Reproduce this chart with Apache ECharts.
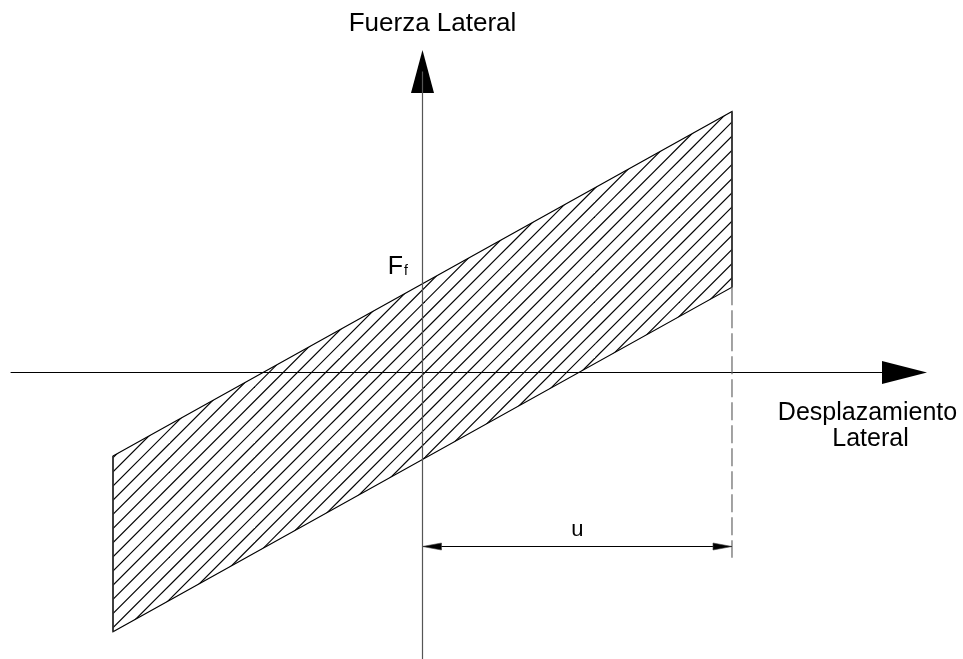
<!DOCTYPE html>
<html>
<head>
<meta charset="utf-8">
<script src="https://cdn.jsdelivr.net/npm/echarts@6/dist/echarts.min.js"></script>
<style>
  html, body { margin: 0; padding: 0; background: #fff; }
  #chart { width: 963px; height: 659px; }
</style>
</head>
<body>
<div id="chart"></div>
<script>
// Hysteresis loop of a friction damper: lateral force against lateral displacement.
const displacement = [-1, 1];          // cycle ends, -u and +u
const loadingForce = [-0.96, 3.0];     // upper branch of the loop
const unloadingForce = [-2.98, 0.98];  // lower branch of the loop
const dimensionLevel = -2.0;           // height of the "u" dimension line
const extensionEnd = -2.13;            // lower end of the dashed extension line

// Axis extents (the axes run past the loop and end in arrowheads)
const xExtent = [-1.3296, 1.5574];
const yExtent = [-3.293, 3.4598];

const FONT = '"Liberation Sans", Arial, sans-serif';

// Diagonal hatching used to fill the loop
function hatchPattern() {
  const size = 85, step = size / 6, phase = 4;
  const c = document.createElement('canvas');
  c.width = size; c.height = size;
  const ctx = c.getContext('2d');
  ctx.strokeStyle = '#000';
  ctx.lineWidth = 1.15;
  for (let k = -2; k * step < 2 * size + step; k++) {
    const s = k * step + phase;
    ctx.beginPath();
    ctx.moveTo(s + 10, -10);
    ctx.lineTo(-10, s + 10);
    ctx.stroke();
  }
  return c;
}
const hatch = { image: hatchPattern(), repeat: 'repeat' };

// Force where the upper branch crosses zero displacement (F_f)
const frictionForce = loadingForce[0] +
  (loadingForce[1] - loadingForce[0]) * (0 - displacement[0]) / (displacement[1] - displacement[0]);

function textEl(x, y, text, size, align) {
  return {
    type: 'text', x: x, y: y,
    style: {
      text: text, fontSize: size, fontFamily: FONT, fill: '#000',
      align: align || 'center', verticalAlign: 'middle',
      textAlign: align || 'center', textVerticalAlign: 'middle'
    }
  };
}

const chart = echarts.init(document.getElementById('chart'), null, { renderer: 'canvas' });

chart.setOption({
  animation: false,
  backgroundColor: '#fff',
  grid: { left: 11, right: 58.5, top: 71.5, bottom: 0, containLabel: false },
  xAxis: {
    type: 'value', min: xExtent[0], max: xExtent[1],
    axisLine: {
      show: true, onZero: true,
      symbol: ['none', 'triangle'], symbolSize: [23, 45],
      lineStyle: { color: '#000', width: 1 }
    },
    axisTick: { show: false }, axisLabel: { show: false }, splitLine: { show: false }
  },
  yAxis: {
    type: 'value', min: yExtent[0], max: yExtent[1],
    axisLine: {
      show: true, onZero: true,
      symbol: ['none', 'triangle'], symbolSize: [23, 43],
      lineStyle: { color: '#000', width: 1, opacity: 0 }
    },
    axisTick: { show: false }, axisLabel: { show: false }, splitLine: { show: false }
  },
  graphic: [
    textEl(432.5, 24, 'Fuerza Lateral', 26),
    textEl(867.5, 413, 'Desplazamiento', 25),
    textEl(870.5, 439.6, 'Lateral', 25)
  ],
  series: [
    {
      // Hatched hysteresis loop
      name: 'loop',
      type: 'custom',
      coordinateSystem: 'cartesian2d',
      data: [[0, 0]],
      z: 2,
      renderItem: function (params, api) {
        const pts = [
          api.coord([displacement[0], loadingForce[0]]),
          api.coord([displacement[1], loadingForce[1]]),
          api.coord([displacement[1], unloadingForce[1]]),
          api.coord([displacement[0], unloadingForce[0]])
        ];
        return {
          type: 'group',
          children: [
            { type: 'polygon', shape: { points: pts },
              style: { fill: hatch, stroke: '#000', lineWidth: 1.1 } },
            { type: 'line', shape: { x1: pts[1][0], y1: pts[1][1], x2: pts[2][0], y2: pts[2][1] },
              style: { stroke: '#333', lineWidth: 1.6 } },
            { type: 'line', shape: { x1: pts[3][0], y1: pts[3][1], x2: pts[0][0], y2: pts[0][1] },
              style: { stroke: '#333', lineWidth: 1.6 } }
          ]
        };
      },
      markLine: {
        silent: true, symbol: ['none', 'none'], label: { show: false },
        lineStyle: { color: '#555', width: 1.2, type: 'solid' },
        data: [{ xAxis: 0 }]
      }
    },
    {
      // Dimension line for the displacement amplitude u and the F_f label
      name: 'annotations',
      type: 'custom',
      coordinateSystem: 'cartesian2d',
      data: [[0, 0]],
      z: 3,
      renderItem: function (params, api) {
        const a = api.coord([0, dimensionLevel]);
        const b = api.coord([displacement[1], dimensionLevel]);
        const top = api.coord([displacement[1], unloadingForce[1]]);
        const bot = api.coord([displacement[1], extensionEnd]);
        const f = api.coord([0, frictionForce]);
        const L = 19, H = 3.5;
        return {
          type: 'group',
          children: [
            { type: 'line', shape: { x1: top[0], y1: top[1], x2: bot[0], y2: bot[1] },
              style: { stroke: '#666', lineWidth: 1.2, lineDash: [18, 5] } },
            { type: 'line', shape: { x1: a[0], y1: a[1], x2: b[0], y2: b[1] },
              style: { stroke: '#000', lineWidth: 1 } },
            { type: 'polygon', shape: { points: [[a[0], a[1]], [a[0] + L, a[1] - H], [a[0] + L, a[1] + H]] },
              style: { fill: '#000', stroke: '#444', lineWidth: 0.6 } },
            { type: 'polygon', shape: { points: [[b[0], b[1]], [b[0] - L, b[1] - H], [b[0] - L, b[1] + H]] },
              style: { fill: '#000', stroke: '#444', lineWidth: 0.6 } },
            textEl((a[0] + b[0]) / 2, a[1] - 16.3, 'u', 22),
            textEl(f[0] - 19.5, f[1] - 16.2, 'F', 25, 'right'),
            textEl(f[0] - 18.5, f[1] - 12.3, 'f', 14, 'left')
          ]
        };
      }
    }
  ]
});
</script>
</body>
</html>
